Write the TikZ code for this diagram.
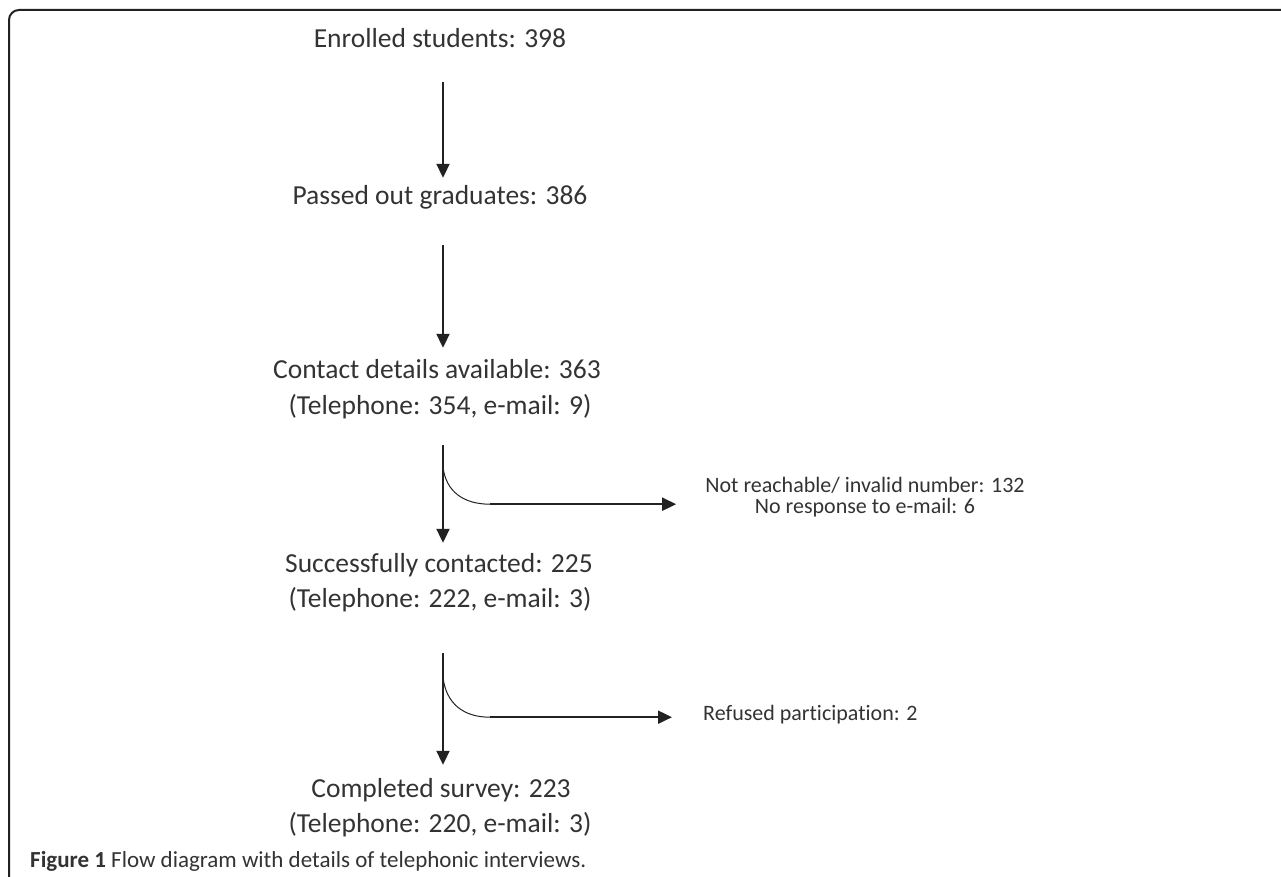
\documentclass[tikz,border=0pt]{standalone}
\usepackage{fontspec}
\setmainfont{Carlito}[Ligatures={NoCommon,NoRequired,NoContextual,NoRare}]
\usetikzlibrary{arrows.meta,calc}
\definecolor{txt}{HTML}{333333}
\definecolor{ln}{HTML}{222222}
\begin{document}
\begin{tikzpicture}[x=1pt,y=-1pt,
  main/.style={text=txt, font=\fontsize{27.5}{33}\selectfont, inner sep=0pt,
    text height=19pt, text depth=6pt, anchor=base},
  side/.style={text=txt, font=\fontsize{22}{21}\selectfont, inner sep=0pt, align=center},
  arr/.style={draw=ln, line width=2pt, -{Triangle[length=14pt,width=13pt]}},
  curveline/.style={draw=ln, line width=1pt},
  frame/.style={draw=ln, line width=2pt, rounded corners=10pt}]
\useasboundingbox (0,0) rectangle (1281,877);
\draw[frame] (9,880) -- (9,10) -- (1284,10);
% main flow nodes
\node[main] (enr)  at (440,48)  {Enrolled students: 398};
\node[main] (pas)  at (440,205) {Passed out graduates: 386};
\node[main] (con)  at (437,378) {Contact details available: 363};
\node[main] (con2) at (440,414) {(Telephone: 354, e-mail: 9)};
\node[main] (suc)  at (439,572) {Successfully contacted: 225};
\node[main] (suc2) at (440,607) {(Telephone: 222, e-mail: 3)};
\node[main] (com)  at (441,797) {Completed survey: 223};
\node[main] (com2) at (440,832) {(Telephone: 220, e-mail: 3)};
% side nodes
\node[side] (nr) at (865,497) {Not reachable/ invalid number: 132\\No response to e-mail: 6};
\node[side, anchor=base west] (ref) at (703,720) {Refused participation: 2};
% caption
\node[anchor=base west, inner sep=0pt, text=txt, font=\fontsize{23}{27}\selectfont] (cap) at (30,867)
  {\textbf{Figure 1} Flow diagram with details of telephonic interviews.};
% main arrows
\draw[arr, shorten <=28pt, shorten >=8pt]  ([xshift=3pt]enr.south)  -- ([xshift=3pt]pas.north);
\draw[arr, shorten <=34pt, shorten >=11pt] ([xshift=3pt]pas.south)  -- ([xshift=6pt]con.north);
\draw[arr, shorten <=25pt, shorten >=10pt] ([xshift=3pt]con2.south) -- ([xshift=4pt]suc.north);
\draw[arr, shorten <=40pt, shorten >=13pt] ([xshift=3pt]suc2.south) -- ([xshift=2pt]com.north);
% branches
\coordinate (b1)  at ($([xshift=3pt]con2.south)+(0,47)$);
\coordinate (b1e) at ($(b1)+(47,37)$);
\draw[curveline] (b1) .. controls ($(b1)+(3,24)$) and ($(b1)+(20,37)$) .. (b1e);
\draw[arr, shorten >=29pt] (b1e) -- (b1e -| nr.west);
\coordinate (b2)  at ($([xshift=3pt]suc2.south)+(0,64)$);
\coordinate (b2e) at ($(b2)+(47,40)$);
\draw[curveline] (b2) .. controls ($(b2)+(3,26)$) and ($(b2)+(20,40)$) .. (b2e);
\draw[arr, shorten >=31pt] (b2e) -- (b2e -| ref.west);
\end{tikzpicture}
\end{document}
